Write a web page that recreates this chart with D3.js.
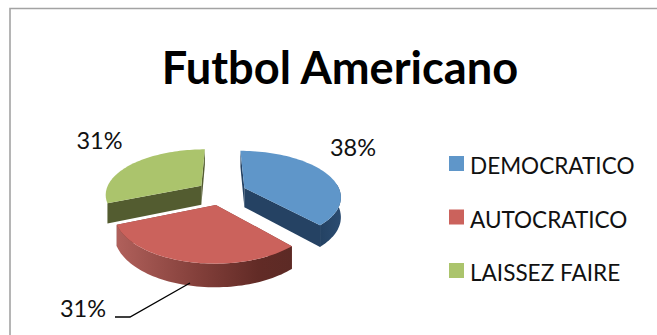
<!DOCTYPE html>
<html>
<head>
<meta charset="utf-8">
<style>
html,body{margin:0;padding:0;background:#fff;overflow:hidden}
svg{display:block}
text{font-family:Lato,"Open Sans",sans-serif;fill:#111}
</style>
<script src="https://cdn.jsdelivr.net/npm/d3@7/dist/d3.min.js"></script>
</head>
<body>
<svg id="chart" width="657" height="335"></svg>
<script>
const chartTitle = "Futbol Americano";
const categories = ["DEMOCRATICO", "AUTOCRATICO", "LAISSEZ FAIRE"];
const shares = [38, 31, 31];
const topColors = ["#5f96c9", "#cb625c", "#abc46c"];
const wallColors = ["#254263", "#7a3733", "#535c30"];

const svg = d3.select("#chart");

// Frame around the chart area
svg.append("path").attr("d", "M10,335V8.5H657")
  .attr("fill", "none").attr("stroke", "#a3a3a3").attr("stroke-width", 1.6);

svg.append("text").attr("x", 340).attr("y", 84).attr("text-anchor", "middle")
  .attr("font-size", 45.2).attr("font-weight", 700).style("fill", "#000").text(chartTitle);

// Tilted pie: slices are laid out and exploded on a flat disc, then the disc is
// projected with perspective so that the near edge looks larger than the far edge
const radius = 96, tilt = 0.487, persp = 0.17, thickness = 19.5, explode = 25;
const centre = {x: 221.5, y: 192.5};
const project = (X, Y, z) => {
  const f = 1 - persp * Y / radius;
  return [centre.x + X * f, centre.y - tilt * Y * f + z * f];
};

const arcs = d3.pie().sort(null).startAngle(0).endAngle(2 * Math.PI)(shares);
const line = d3.line();
const sample = (a, b) => d3.range(0, 61).map(i => a + (b - a) * i / 60);

const defs = svg.append("defs");
const redWall = defs.append("linearGradient").attr("id", "wall1")
  .attr("gradientUnits", "userSpaceOnUse").attr("x1", 117).attr("x2", 293).attr("y1", 0).attr("y2", 0);
[[0, "#b0605b"], [0.45, "#84403b"], [0.8, "#622b26"], [1, "#5c2a25"]].forEach(([o, c]) =>
  redWall.append("stop").attr("offset", o).attr("stop-color", c));
const blueWall = defs.append("linearGradient").attr("id", "wall0")
  .attr("gradientUnits", "userSpaceOnUse").attr("x1", 320).attr("x2", 341).attr("y1", 0).attr("y2", 0);
[[0, "#244263"], [1, "#2b4c71"]].forEach(([o, c]) =>
  blueWall.append("stop").attr("offset", o).attr("stop-color", c));

// The curved rim is visible from the right-hand silhouette to the end of the front slice
const rimFrom = Math.PI / 2 - 0.1;
const rimTo = arcs[1].endAngle;

const pieGroup = svg.append("g");
// Back slices first, the front slice last
[2, 0, 1].forEach(i => {
  const d = arcs[i];
  const mid = (d.startAngle + d.endAngle) / 2;
  const ox = explode * Math.sin(mid);
  const oy = explode * Math.cos(mid);
  const g = pieGroup.append("g");
  const pt = (t, r, z) => project(ox + r * Math.sin(t), oy + r * Math.cos(t), z);

  // Radial walls
  [d.startAngle, d.endAngle].forEach(t => {
    g.append("path")
      .attr("d", line([pt(t, 0, 0), pt(t, radius, 0), pt(t, radius, thickness), pt(t, 0, thickness)]) + "Z")
      .attr("fill", wallColors[i]);
  });
  // Curved outer wall
  const from = Math.max(d.startAngle, rimFrom);
  const to = Math.min(d.endAngle, rimTo);
  if (to > from) {
    const s = sample(from, to);
    g.append("path")
      .attr("d", line(s.map(t => pt(t, radius, 0)).concat(s.slice().reverse().map(t => pt(t, radius, thickness)))) + "Z")
      .attr("fill", `url(#wall${i})`);
  }
  // Top face
  const rim = sample(d.startAngle, d.endAngle).map(t => pt(t, radius, 0));
  g.append("path")
    .attr("d", line([pt(0, 0, 0), ...rim]) + "Z")
    .attr("fill", topColors[i]);
});

// Percentage labels
const labelSpots = [{x: 353, y: 156}, {x: 83, y: 317}, {x: 99.5, y: 149}];
arcs.forEach((d, i) => {
  svg.append("text").attr("x", labelSpots[i].x).attr("y", labelSpots[i].y)
    .attr("text-anchor", "middle").attr("font-size", 23.5).text(d.value + "%");
});
svg.append("polyline")
  .attr("points", "115,317 130,317 190,283")
  .attr("fill", "none").attr("stroke", "#000").attr("stroke-width", 1.3);

// Legend
const legendY = d3.scalePoint().domain(categories).range([163.5, 270.5]);
const legend = svg.append("g").selectAll("g").data(categories).join("g")
  .attr("transform", c => `translate(449,${legendY(c)})`);
legend.append("rect").attr("y", -7.5).attr("width", 15).attr("height", 15)
  .attr("fill", (c, i) => topColors[i]);
legend.append("text").attr("x", 21).attr("y", 10.5).attr("font-size", 22.55).text(c => c);
</script>
</body>
</html>
